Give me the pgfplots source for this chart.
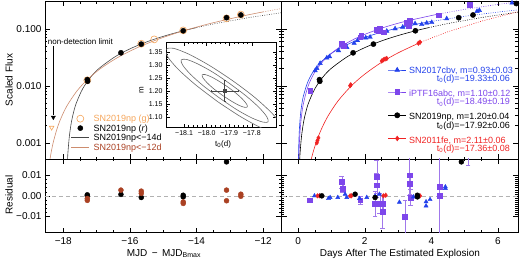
\documentclass[border=0pt]{standalone}
\usepackage{fontspec}
\setmainfont{Liberation Sans}
\usepackage{pgfplots}
\pgfplotsset{compat=1.18}
\definecolor{cbv}{RGB}{35,65,235}
\definecolor{ptf}{RGB}{125,70,235}
\definecolor{ptfbar}{RGB}{160,120,235}
\definecolor{fe}{RGB}{240,35,35}
\definecolor{gor}{RGB}{245,165,90}
\definecolor{brn}{RGB}{170,65,35}
\definecolor{fitor}{RGB}{205,140,110}
\definecolor{fitgr}{RGB}{70,70,70}
\definecolor{cont}{RGB}{105,105,105}
\newcommand{\lleg}[1]{\rule[-1.55pt]{0pt}{9.5pt}\smash{#1}}
\pgfplotsset{
  myax/.style={scale only axis, anchor=south west, tick align=inside,
    scaled ticks=false,
    major tick length=5pt, minor tick length=2.5pt,
    axis line style={line width=0.5pt},
    every tick/.style={black, line width=0.4pt},
    tick label style={font=\fontsize{10}{12}\selectfont},
    xtick pos=both, ytick pos=both,
    legend image code/.code={\draw[mark repeat=2,mark phase=2,##1] plot coordinates {(0pt,0pt) (9pt,0pt) (18pt,0pt)};}},
  fitline/.style={line width=0.6pt, forget plot},
  dotline/.style={line width=0.6pt, dash pattern=on 0.8pt off 1.5pt, forget plot},
}
\begin{document}
\begin{tikzpicture}
\path[use as bounding box] (0,0) rectangle (520pt,260pt);

% ---------------- left top ----------------
\begin{axis}[myax, at={(45pt,101pt)}, width=236.5pt, height=157.5pt,
  xmin=-18.55, xmax=-11.45, ymode=log, ymin=5.2e-4, ymax=0.30,
  xtick={-18,-16,-14,-12}, xticklabels={,,,}, minor x tick num=3,
  ytick={0.001,0.01,0.1}, yticklabels={0.001,0.010,0.100},
  legend style={at={(0.110,0.286)}, anchor=north west, draw=none, fill=none,
    inner sep=0pt, outer sep=0pt, column sep=4pt, row sep=0pt,
    nodes={inner sep=0pt, font=\fontsize{9}{10}\selectfont}},
  legend cell align=left]
\addplot[fitgr, fitline, smooth] coordinates {(-17.88,4.27e-4) (-17.87,5.57e-4) (-17.86,6.94e-4) (-17.82,1.281e-3) (-17.77,2.08e-3) (-17.72,2.94e-3) (-17.62,4.79e-3) (-17.42,8.84e-3) (-17.17,0.01437) (-16.92,0.0203) (-16.42,0.0330) (-15.92,0.0466) (-15.42,0.0610) (-14.92,0.0759) (-14.42,0.0913) (-14.00,0.1046)};
\addplot[fitgr, dotline] coordinates {(-14.00,0.1046) (-13.42,0.1234) (-12.42,0.157) (-11.45,0.191)};
\addplot[fitor, fitline, smooth] coordinates {(-18.45,3.17e-4) (-18.40,5.17e-4) (-18.35,7.56e-4) (-18.30,1.03e-3) (-18.20,1.68e-3) (-18.10,2.46e-3) (-17.90,4.35e-3) (-17.60,7.98e-3) (-17.28,0.0128) (-16.90,0.01967) (-16.40,0.0305) (-15.80,0.0459) (-15.10,0.0671) (-14.40,0.0915) (-13.60,0.1231) (-12.67,0.1645) (-12.00,0.1973)};
\addplot[fitor, dotline] coordinates {(-12.00,0.1973) (-11.45,0.226)};
\addplot[gor, only marks, mark=o, mark size=3.5pt, mark options={line width=0.6pt}, forget plot] coordinates {(-17.28,0.0125) (-15.66,0.0545) (-15.27,0.0650) (-14.40,0.0935) (-13.10,0.1520) (-12.67,0.1770)};
\addplot[black, only marks, mark=*, mark size=2.6pt, forget plot] coordinates {(-17.28,0.0128) (-17.27,0.0120) (-16.27,0.0378) (-15.66,0.0537) (-14.40,0.0920) (-13.10,0.1560) (-12.67,0.1740)};
\addplot[black, line width=0.5pt, forget plot] coordinates {(-18.30,0.050) (-18.30,0.0031)};
\addplot[black, only marks, mark=triangle*, mark size=2.4pt, mark options={rotate=180}, forget plot] coordinates {(-18.30,0.0028)};
\addplot[gor, only marks, mark=triangle, mark size=2.6pt, mark options={rotate=180, line width=0.6pt}, forget plot] coordinates {(-18.35,0.00185)};
\node[anchor=west, font=\fontsize{8}{9}\selectfont, inner sep=0pt] at (axis cs:-18.47,0.060) {non-detection limit};
\addlegendimage{gor, only marks, mark=o, mark size=3.5pt, mark options={line width=0.6pt}}
\addlegendentry{\lleg{\textcolor{gor}{SN2019np (g)}}}
\addlegendimage{black, only marks, mark=*, mark size=2.6pt}
\addlegendentry{\lleg{SN2019np (\textit{r})}}
\addlegendimage{fitgr, line width=0.6pt}
\addlegendentry{\lleg{SN2019np<−14d}}
\addlegendimage{fitor, line width=0.6pt}
\addlegendentry{\lleg{\textcolor{brn}{SN2019np<−12d}}}
\end{axis}

% ---------------- left residual ----------------
\begin{axis}[myax, at={(45pt,27.3pt)}, width=236.5pt, height=73.7pt,
  xmin=-18.55, xmax=-11.45, ymin=-0.018, ymax=0.018,
  xtick={-18,-16,-14,-12}, xticklabels={−18,−16,−14,−12}, minor x tick num=3,
  ytick={-0.01,0,0.01}, yticklabels={−0.01,0.00,0.01}, minor y tick num=4,
  xticklabel style={yshift=-1.5pt}]
\addplot[gray!60, line width=0.6pt, dash pattern=on 4pt off 3pt, forget plot] coordinates {(-18.55,0) (-11.45,0)};
\addplot[black, only marks, mark=*, mark size=2.5pt] coordinates {(-17.28,0.0000) (-17.28,0.0005) (-16.27,0.0007) (-15.66,-0.0008) (-14.40,0.0003) (-14.40,-0.0005) (-13.10,0.0166)};
\addplot[brn, only marks, mark=*, mark size=2.5pt] coordinates {(-17.28,-0.0013) (-17.28,-0.0022) (-16.27,0.0028) (-15.66,0.0023) (-15.66,0.0012) (-14.40,-0.0030) (-14.40,-0.0037) (-13.10,0.0028) (-13.10,-0.0024) (-12.67,0.0008) (-12.67,-0.0002)};
\end{axis}

% ---------------- inset ----------------
\begin{axis}[myax, at={(166pt,132.7pt)}, width=110.7pt, height=85.3pt,
  axis background/.style={fill=white},
  xmin=-18.18, xmax=-17.69, ymin=1.06, ymax=1.388,
  major tick length=3.5pt, minor tick length=1.8pt,
  xtick={-18.1,-18.0,-17.9,-17.8}, xticklabels={−18.1,−18.0,−17.9,−17.8},
  ytick={1.10,1.15,1.20,1.25,1.30,1.35}, yticklabels={1.10,1.15,1.20,1.25,1.30,1.35},
  minor x tick num=4, minor y tick num=4,
  tick label style={font=\fontsize{7}{8}\selectfont}]
\addplot[cont, line width=0.6pt, smooth] coordinates {(-17.932,1.184) (-17.970,1.209) (-17.999,1.232) (-18.017,1.251) (-18.020,1.2615) (-18.008,1.263) (-17.982,1.255) (-17.947,1.238) (-17.908,1.216) (-17.870,1.191) (-17.841,1.168) (-17.823,1.149) (-17.820,1.1385) (-17.833,1.137) (-17.858,1.145) (-17.893,1.162) (-17.932,1.184)};
\addplot[cont, line width=0.6pt, smooth] coordinates {(-17.942,1.172) (-18.014,1.219) (-18.072,1.264) (-18.106,1.299) (-18.113,1.319) (-18.089,1.321) (-18.040,1.304) (-17.973,1.272) (-17.898,1.228) (-17.826,1.181) (-17.768,1.136) (-17.734,1.101) (-17.728,1.081) (-17.751,1.080) (-17.800,1.096) (-17.867,1.128) (-17.942,1.172)};
\addplot[cont, line width=0.6pt, smooth] coordinates {(-17.952,1.159) (-18.050,1.224) (-18.127,1.284) (-18.173,1.332) (-18.180,1.360) (-18.148,1.364) (-18.081,1.342) (-17.990,1.299) (-17.888,1.241) (-17.790,1.177) (-17.713,1.116) (-17.667,1.068) (-17.660,1.040) (-17.692,1.036) (-17.759,1.058) (-17.850,1.101) (-17.952,1.159)};
\addplot[fitgr, only marks, mark=square*, mark size=1.2pt,
  error bars/.cd, x dir=both, x explicit, y dir=both, y explicit,
  error bar style={line width=0.5pt, fitgr}] coordinates {(-17.92,1.20) +- (0.06,0.04)};
\end{axis}

% ---------------- right top ----------------
\begin{axis}[myax, at={(281.5pt,101pt)}, width=236.5pt, height=157.5pt,
  xmin=-0.5, xmax=6.6, ymode=log, ymin=5.2e-4, ymax=0.30,
  xtick={0,2,4,6}, xticklabels={,,,}, minor x tick num=3,
  ytick={0.001,0.01,0.1}, yticklabels={,,},
  legend style={at={(0.450,0.5816)}, anchor=north west, draw=none, fill=none,
    inner sep=0pt, outer sep=0pt, column sep=0pt, row sep=18.3pt,
    nodes={inner sep=0pt}},
  legend cell align=left]
% fits
\addplot[cbv, fitline, smooth] coordinates {(0.01,5.1e-4) (0.02,9.73e-4) (0.04,1.85e-3) (0.08,3.53e-3) (0.15,6.34e-3) (0.3,0.01208) (0.5,0.01942) (0.8,0.03007) (1.2,0.04384) (1.8,0.0639) (2.5,0.0868) (3.2,0.1092) (4.0,0.1343)};
\addplot[cbv, dotline] coordinates {(4.0,0.1343) (5.0,0.1653) (6.0,0.1958) (6.6,0.214)};
\addplot[ptf, fitline, smooth] coordinates {(0.02,5.03e-4) (0.04,1.078e-3) (0.08,2.31e-3) (0.15,4.62e-3) (0.3,9.9e-3) (0.5,0.01735) (0.8,0.0291) (1.2,0.0455) (1.8,0.0710) (2.5,0.1019) (3.2,0.1337) (4.2,0.1803)};
\addplot[ptf, dotline] coordinates {(4.2,0.1803) (5.0,0.2185) (6.0,0.267) (6.6,0.2965)};
\addplot[black, fitline, smooth] coordinates {(0.04,4.27e-4) (0.05,5.57e-4) (0.06,6.94e-4) (0.1,1.281e-3) (0.15,2.08e-3) (0.2,2.94e-3) (0.3,4.79e-3) (0.5,8.84e-3) (0.75,0.01437) (1.0,0.0203) (1.5,0.0330) (2.0,0.0466) (2.5,0.0610) (3.0,0.0759) (3.5,0.0913) (3.92,0.1046)};
\addplot[black, dotline] coordinates {(3.92,0.1046) (4.5,0.1234) (5.5,0.157) (6.6,0.1954)};
\addplot[fe, fitline, smooth] coordinates {(0.38,4.82e-4) (0.45,6.88e-4) (0.55,1.051e-3) (0.7,1.748e-3) (0.9,2.97e-3) (1.2,5.45e-3) (1.6,0.0100) (2.0,0.0160) (2.5,0.02565) (3.0,0.0377) (3.7,0.0587)};
\addplot[fe, dotline] coordinates {(3.7,0.0587) (4.5,0.0886) (5.5,0.1354) (6.6,0.199)};
% data
\addplot[cbv, only marks, mark=triangle*, mark size=2.6pt, forget plot] coordinates {(0.51,0.0184) (0.56,0.0202) (0.66,0.0247) (0.86,0.0308) (0.94,0.0325) (1.21,0.0414) (1.46,0.0473) (1.68,0.0557) (1.78,0.0622) (2.03,0.0694) (2.16,0.0711) (2.46,0.0871) (2.66,0.0908) (2.91,0.1000) (3.14,0.107) (3.36,0.118) (3.51,0.123) (3.71,0.119) (3.86,0.126) (4.01,0.129) (4.46,0.150) (5.37,0.202) (5.44,0.210) (6.42,0.283)};
\addplot[ptf, only marks, mark=square*, mark size=2.4pt, forget plot] coordinates {(0.36,0.0082) (1.31,0.0543) (1.36,0.0507) (1.86,0.0711) (1.89,0.0762) (2.36,0.0960) (2.41,0.0908) (2.46,0.1000) (2.56,0.0871) (3.26,0.126) (3.31,0.114) (3.34,0.140) (4.21,0.172) (5.14,0.261)};
\addplot[black, only marks, mark=*, mark size=2.6pt, forget plot] coordinates {(0.64,0.0128) (0.65,0.0120) (1.65,0.0378) (2.26,0.0537) (3.52,0.0920) (4.82,0.1560) (5.25,0.1740) (6.55,0.276)};
\addplot[fe, only marks, mark=diamond*, mark size=2.3pt, forget plot] coordinates {(0.56,0.00100) (0.58,0.00110) (0.61,0.00122) (1.56,0.0100) (1.58,0.0104) (2.51,0.0272) (2.56,0.0285) (2.61,0.0295) (2.66,0.0300) (3.61,0.0557) (3.66,0.0580)};
\addlegendimage{cbv, line width=0.6pt, mark=triangle*, mark size=2.6pt}
\addlegendentry{}
\addlegendimage{ptf, line width=0.6pt, mark=square*, mark size=2.4pt}
\addlegendentry{}
\addlegendimage{black, line width=0.6pt, mark=*, mark size=2.6pt}
\addlegendentry{}
\addlegendimage{fe, line width=0.6pt, mark=diamond*, mark size=2.3pt}
\addlegendentry{}
\end{axis}

% ---------------- right residual ----------------
\begin{axis}[myax, at={(281.5pt,27.3pt)}, width=236.5pt, height=73.7pt,
  xmin=-0.5, xmax=6.6, ymin=-0.018, ymax=0.018,
  xtick={0,2,4,6}, xticklabels={0,2,4,6}, minor x tick num=3,
  ytick={-0.01,0,0.01}, yticklabels={,,}, minor y tick num=9,
  xticklabel style={yshift=-1.5pt}]
\addplot[gray!60, line width=0.6pt, dash pattern=on 4pt off 3pt, forget plot] coordinates {(-0.5,0) (6.6,0)};
\addplot[ptf, only marks, mark=square*, mark size=2.4pt,
  error bars/.cd, y dir=both, y explicit,
  error bar style={line width=0.5pt, ptfbar}] table[x=t, y=r, y error=e] {
t r e
0.34 -0.0021 0.0005
1.31 0.0068 0.003
1.34 0.0036 0.002
1.86 -0.0021 0.002
2.31 -0.0037 0.006
2.36 0.0093 0.008
2.36 0.0052 0.006
2.45 -0.0037 0.005
2.53 -0.0078 0.008
2.55 -0.0037 0.004
3.21 -0.0102 0.008
3.34 0.0101 0.010
3.36 0.0060 0.005
3.38 -0.0008 0.004
4.24 0.0044 0.030
4.24 0.0000 0.030
5.10 0.0200 0.005
};
\addplot[cbv, only marks, mark=triangle*, mark size=2.4pt] coordinates {(0.49,0.0000) (0.64,0.0000) (0.91,-0.0013) (0.96,-0.0008) (1.19,-0.0008) (1.41,0.0008) (1.46,-0.0008) (1.84,-0.0013) (2.06,-0.0008) (2.31,-0.0002) (2.44,0.0008) (3.04,-0.0031) (3.46,-0.0005) (3.84,-0.0029) (3.84,-0.0049) (3.96,-0.0018) (4.42,0.0044) (4.42,0.0036)};
\addplot[fe, only marks, mark=diamond*, mark size=2.3pt] coordinates {(0.58,0.0000) (0.64,0.0000) (1.56,0.0000) (1.60,0.0000) (2.56,0.0000) (2.63,0.0003) (3.66,0.0000)};
\addplot[black, only marks, mark=*, mark size=2.5pt] coordinates {(0.71,0.0000) (1.71,0.0008) (2.31,-0.0008) (3.58,0.0003) (3.58,-0.0005) (4.90,0.0166)};
\end{axis}

% ---------------- right legend texts ----------------
\begin{scope}[font=\fontsize{9}{10}\selectfont]
\node[anchor=base west, text=cbv, inner sep=0pt] at (409pt,186.8pt) {SN2017cbv, m=0.93±0.03};
\node[anchor=base east, text=cbv, inner sep=0pt] at (510pt,178.3pt) {t\textsubscript{0}(d)=−19.33±0.06};
\node[anchor=base west, text=ptf, inner sep=0pt] at (409pt,163.5pt) {iPTF16abc, m=1.10±0.12};
\node[anchor=base east, text=ptf, inner sep=0pt] at (510pt,155.0pt) {t\textsubscript{0}(d)=−18.49±0.19};
\node[anchor=base west, text=black, inner sep=0pt] at (409pt,140.2pt) {SN2019np, m=1.20±0.04};
\node[anchor=base east, text=black, inner sep=0pt] at (510pt,131.7pt) {t\textsubscript{0}(d)=−17.92±0.06};
\node[anchor=base west, text=fe, inner sep=0pt] at (409pt,116.8pt) {SN2011fe, m=2.11±0.06};
\node[anchor=base east, text=fe, inner sep=0pt] at (510pt,108.3pt) {t\textsubscript{0}(d)=−17.36±0.08};
\end{scope}
% ---------------- labels ----------------
\node[rotate=90, font=\fontsize{10}{12}\selectfont] at (9pt,180pt) {Scaled Flux};
\node[rotate=90, font=\fontsize{10}{12}\selectfont] at (9pt,65pt) {Residual};
\node[anchor=base, font=\fontsize{10}{12}\selectfont] at (164pt,4pt) {MJD \,−\, MJD\textsubscript{Bmax}};
\node[anchor=base, font=\fontsize{10}{12}\selectfont] at (400pt,3pt) {Days After The Estimated Explosion};
\node[rotate=90, font=\fontsize{8}{9}\selectfont] at (141.5pt,170.3pt) {m};
\node[font=\fontsize{8}{9}\selectfont] at (223pt,116pt) {t\textsubscript{0}(d)};
\end{tikzpicture}
\end{document}
